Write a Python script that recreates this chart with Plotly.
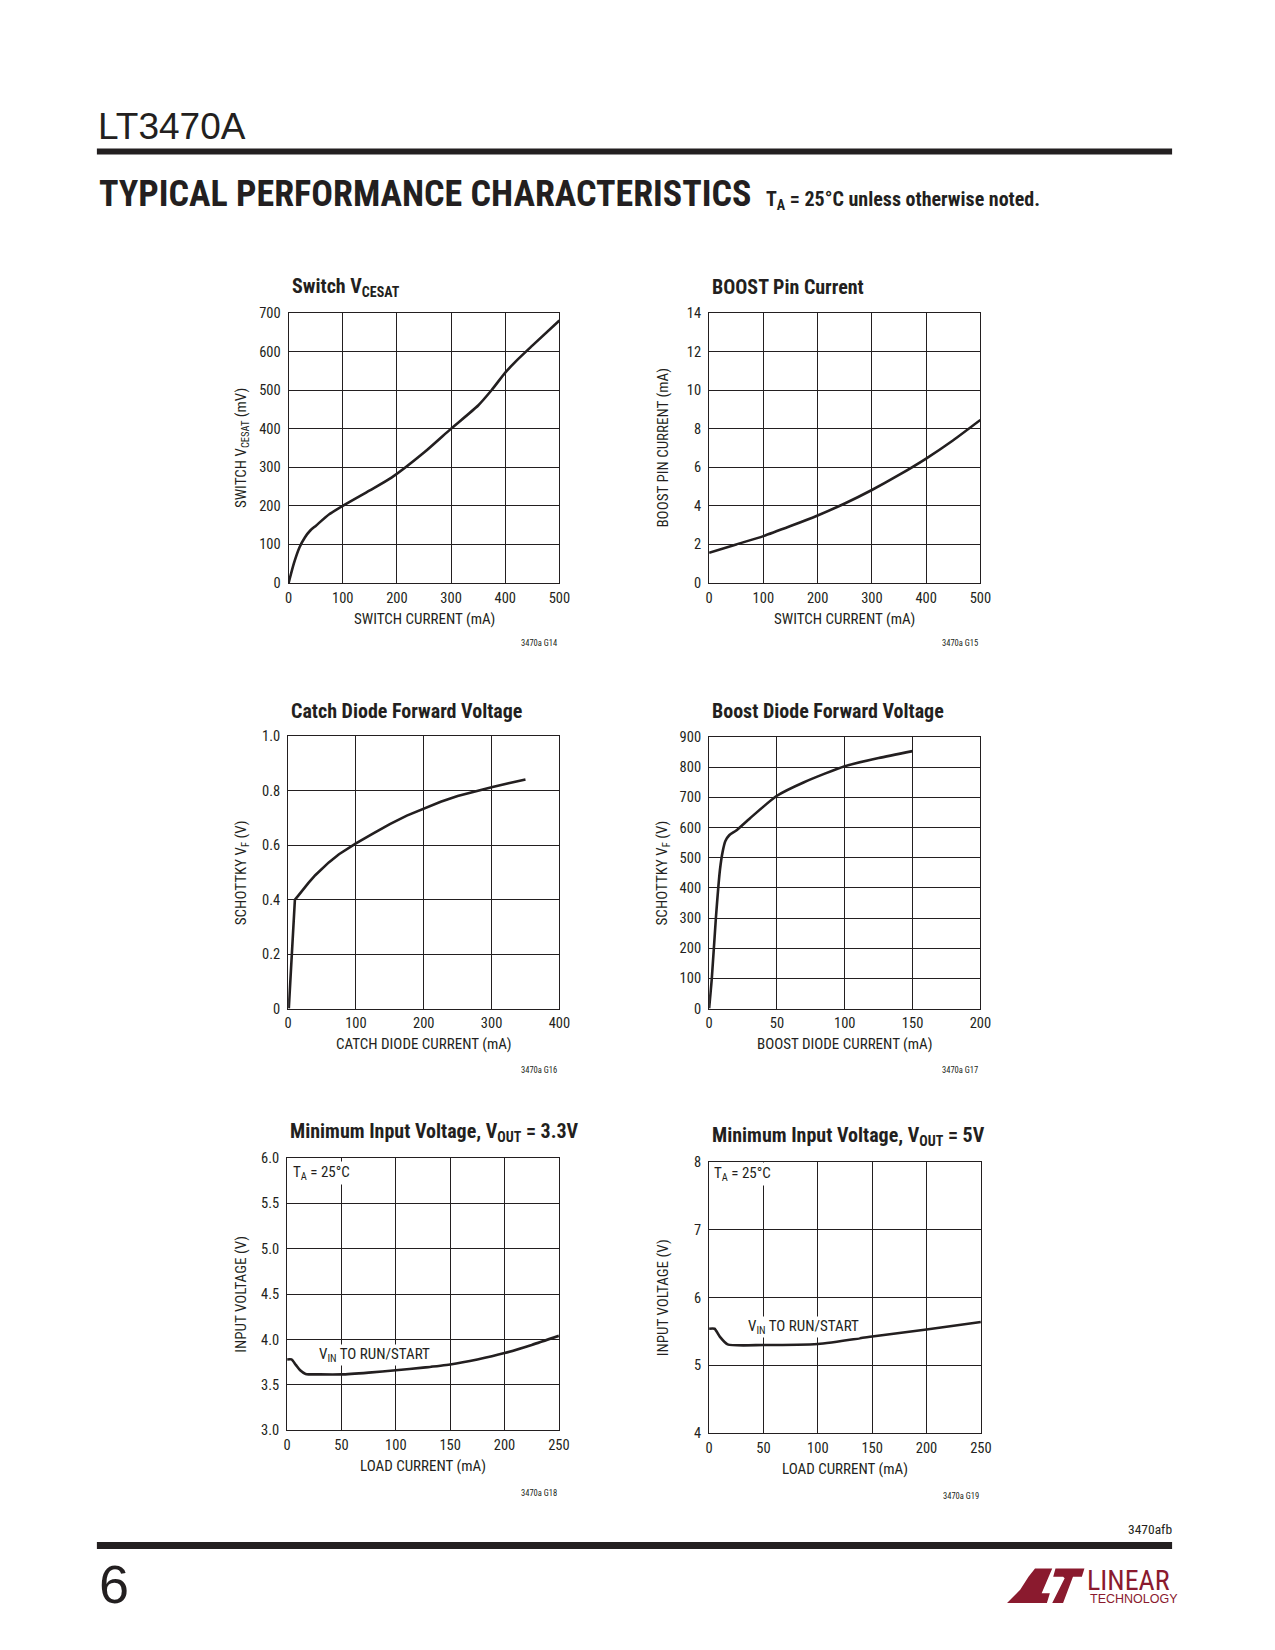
import plotly.graph_objects as go

# ---------------- data ----------------
vcesat_x = [0, 10, 20, 30, 40, 50, 75, 100, 150, 190, 250, 300, 350, 375, 400, 420, 450, 500]
vcesat_y = [0, 52, 92, 118, 136, 148, 178, 200, 240, 273, 338, 400, 460, 500, 545, 575, 615, 680]

boost_x = [0, 50, 100, 150, 200, 250, 300, 350, 400, 450, 500]
boost_y = [1.57, 2.0, 2.43, 2.95, 3.5, 4.12, 4.82, 5.6, 6.45, 7.4, 8.45]

catch_x = [1, 10, 15, 20, 30, 40, 50, 60, 75, 100, 125, 150, 175, 200, 225, 250, 275, 300, 325, 350]
catch_y = [0, 0.40, 0.415, 0.432, 0.462, 0.49, 0.515, 0.537, 0.567, 0.607, 0.643, 0.678, 0.709,
           0.736, 0.760, 0.781, 0.798, 0.813, 0.828, 0.842]

bdiode_x = [0, 2, 5, 8, 10, 12, 15, 20, 30, 50, 70, 100, 125, 150]
bdiode_y = [0, 100, 300, 460, 520, 555, 575, 590, 630, 705, 750, 803, 830, 853]

vin33_x = [0, 4, 8, 12, 17, 30, 50, 75, 100, 125, 150, 175, 200, 225, 250]
vin33_y = [3.78, 3.78, 3.72, 3.66, 3.62, 3.615, 3.615, 3.635, 3.66, 3.69, 3.725, 3.78, 3.85, 3.94, 4.04]

vin5_x = [0, 5, 10, 17, 50, 100, 150, 200, 250]
vin5_y = [5.54, 5.54, 5.42, 5.31, 5.30, 5.315, 5.425, 5.53, 5.64]

x_ticks_500 = [0, 100, 200, 300, 400, 500]
x_ticks_400 = [0, 100, 200, 300, 400]
x_ticks_200 = [0, 50, 100, 150, 200]
x_ticks_250 = [0, 50, 100, 150, 200, 250]
y_ticks_vcesat = [0, 100, 200, 300, 400, 500, 600, 700]
y_ticks_boost = [0, 2, 4, 6, 8, 10, 12, 14]
y_ticks_catch = [0, 0.2, 0.4, 0.6, 0.8, 1.0]
y_text_catch = ["0", "0.2", "0.4", "0.6", "0.8", "1.0"]
y_ticks_bdiode = [0, 100, 200, 300, 400, 500, 600, 700, 800, 900]
y_ticks_vin33 = [3.0, 3.5, 4.0, 4.5, 5.0, 5.5, 6.0]
y_text_vin33 = ["3.0", "3.5", "4.0", "4.5", "5.0", "5.5", "6.0"]
y_ticks_vin5 = [4, 5, 6, 7, 8]

titles = ["Switch V<sub>CESAT</sub>", "BOOST Pin Current", "Catch Diode Forward Voltage",
          "Boost Diode Forward Voltage", "Minimum Input Voltage, V<sub>OUT</sub> = 3.3V",
          "Minimum Input Voltage, V<sub>OUT</sub> = 5V"]
xtitles = ["SWITCH CURRENT (mA)", "SWITCH CURRENT (mA)", "CATCH DIODE CURRENT (mA)",
           "BOOST DIODE CURRENT (mA)", "LOAD CURRENT (mA)", "LOAD CURRENT (mA)"]
ytitles = ["SWITCH V<sub>CESAT</sub> (mV)", "BOOST PIN CURRENT (mA)", "SCHOTTKY V<sub>F</sub> (V)",
           "SCHOTTKY V<sub>F</sub> (V)", "INPUT VOLTAGE (V)", "INPUT VOLTAGE (V)"]
codes = ["3470a G14", "3470a G15", "3470a G16", "3470a G17", "3470a G18", "3470a G19"]

# ---------------- layout helpers ----------------
W, H = 1275, 1650
INK = "#231f20"
RED = "#8a1a2e"
NARROW = "Liberation Sans Narrow, Arial Narrow, Roboto Condensed, sans-serif"
SANS = "Liberation Sans, Arial, sans-serif"


def fx(p):
    return p / W


def fy(p):
    return 1 - p / H


boxes = [
    (288, 562, 308, 581),
    (713.5, 988, 308, 581),
    (287.5, 562, 736, 1011),
    (713.5, 988, 736.5, 1011),
    (286.5, 561.5, 1162, 1437),
    (713.5, 988.5, 1166, 1440),
]

series = [
    (vcesat_x, vcesat_y, "spline"),
    (boost_x, boost_y, "spline"),
    (catch_x, catch_y, "linear"),
    (bdiode_x, bdiode_y, "spline"),
    (vin33_x, vin33_y, "spline"),
    (vin5_x, vin5_y, "spline"),
]

xranges = [(0, 500), (0, 500), (0, 400), (0, 200), (0, 250), (0, 250)]
yranges = [(0, 700), (0, 14), (0, 1.0), (0, 900), (3.0, 6.0), (4, 8)]
xtickv = [x_ticks_500, x_ticks_500, x_ticks_400, x_ticks_200, x_ticks_250, x_ticks_250]
ytickv = [y_ticks_vcesat, y_ticks_boost, y_ticks_catch, y_ticks_bdiode, y_ticks_vin33, y_ticks_vin5]
ytickt = [[str(v) for v in y_ticks_vcesat], [str(v) for v in y_ticks_boost], y_text_catch,
          [str(v) for v in y_ticks_bdiode], y_text_vin33, [str(v) for v in y_ticks_vin5]]

fig = go.Figure()
layout = dict(width=W, height=H, margin=dict(l=0, r=0, t=0, b=0),
              paper_bgcolor="white", plot_bgcolor="white", showlegend=False)
annotations = []
shapes = []

for i in range(6):
    n = "" if i == 0 else str(i + 1)
    x0, x1, y0, y1 = boxes[i]
    xs, ys, shp = series[i]
    fig.add_trace(go.Scatter(x=xs, y=ys, mode="lines", xaxis="x" + n, yaxis="y" + n,
                             line=dict(color=INK, width=2.6, shape=shp, smoothing=0.6),
                             hoverinfo="skip"))
    common = dict(showline=True, linecolor=INK, linewidth=1.2, mirror=True,
                  showgrid=True, gridcolor=INK, gridwidth=1.1, zeroline=False,
                  ticks="", tickfont=dict(family=NARROW, size=14.5, color=INK),
                  fixedrange=True)
    layout["xaxis" + n] = dict(domain=[fx(x0), fx(x1)], anchor="y" + n, range=list(xranges[i]),
                               tickvals=xtickv[i], ticktext=[str(v) for v in xtickv[i]],
                               ticklabelstandoff=1, **common)
    layout["yaxis" + n] = dict(domain=[fy(y1), fy(y0)], anchor="x" + n, range=list(yranges[i]),
                               tickvals=ytickv[i], ticktext=ytickt[i],
                               ticklabelstandoff=4, **common)
    # chart title
    annotations.append(dict(text="<b>" + titles[i] + "</b>", x=fx(x0 + 1), y=fy(y0 - 26),
                            xref="paper", yref="paper", xanchor="left", yanchor="middle",
                            showarrow=False, font=dict(family=NARROW, size=20, color=INK)))
    # x title
    annotations.append(dict(text=xtitles[i], x=fx((x0 + x1) / 2), y=fy(y1 + 36),
                            xref="paper", yref="paper", xanchor="center", yanchor="middle",
                            showarrow=False, font=dict(family=NARROW, size=15, color=INK)))
    # y title
    annotations.append(dict(text=ytitles[i], x=fx(x0 - 47), y=fy((y0 + y1) / 2),
                            xref="paper", yref="paper", xanchor="center", yanchor="middle",
                            textangle=-90, showarrow=False,
                            font=dict(family=NARROW, size=15, color=INK)))

# code labels
code_y = [642, 642, 1073, 1073, 1500, 1503]
for i in range(6):
    x0, x1, y0, y1 = boxes[i]
    annotations.append(dict(text=codes[i], x=fx(x1), y=fy(code_y[i]), xref="paper", yref="paper",
                            xanchor="right", yanchor="middle", showarrow=False,
                            font=dict(family=NARROW, size=8.5, color=INK)))

# in-plot labels
annotations += [
    dict(text="T<sub>A</sub> = 25°C", x=4.0, y=5.84, xref="x5", yref="y5", xanchor="left",
         yanchor="middle", showarrow=False, bgcolor="white", borderpad=1,
         font=dict(family=NARROW, size=15, color=INK)),
    dict(text="V<sub>IN</sub> TO RUN/START", x=28.0, y=3.83, xref="x5", yref="y5", xanchor="left",
         yanchor="middle", showarrow=False, bgcolor="white", borderpad=0,
         font=dict(family=NARROW, size=15, color=INK)),
    dict(text="T<sub>A</sub> = 25°C", x=2.5, y=7.82, xref="x6", yref="y6", xanchor="left",
         yanchor="middle", showarrow=False, bgcolor="white", borderpad=1,
         font=dict(family=NARROW, size=15, color=INK)),
    dict(text="V<sub>IN</sub> TO RUN/START", x=35, y=5.57, xref="x6", yref="y6", xanchor="left",
         yanchor="middle", showarrow=False, bgcolor="white", borderpad=0,
         font=dict(family=NARROW, size=15, color=INK)),
]

# page header / footer
annotations += [
    dict(text="LT3470A", x=fx(93), y=fy(120), xref="paper", yref="paper", xanchor="left",
         yanchor="middle", showarrow=False, font=dict(family=SANS, size=37, color=INK)),
    dict(text="<b>TYPICAL PERFORMANCE CHARACTERISTICS</b>", x=fx(94), y=fy(188), xref="paper",
         yref="paper", xanchor="left", yanchor="middle", showarrow=False,
         font=dict(family=NARROW, size=36, color=INK)),
    dict(text="<b>T<sub>A</sub> = 25°C unless otherwise noted.</b>", x=fx(769), y=fy(194),
         xref="paper", yref="paper", xanchor="left", yanchor="middle", showarrow=False,
         font=dict(family=NARROW, size=20, color=INK)),
    dict(text="3470afb", x=fx(1184), y=fy(1537), xref="paper", yref="paper", xanchor="right",
         yanchor="middle", showarrow=False, font=dict(family=NARROW, size=13.5, color=INK)),
    dict(text="6", x=fx(94), y=fy(1592), xref="paper", yref="paper", xanchor="left",
         yanchor="middle", showarrow=False, font=dict(family=SANS, size=54, color=INK)),
    dict(text="LINEAR", x=fx(1094), y=fy(1589), xref="paper", yref="paper", xanchor="left",
         yanchor="middle", showarrow=False, font=dict(family=NARROW, size=28, color=RED)),
    dict(text="TECHNOLOGY", x=fx(1097), y=fy(1607.5), xref="paper", yref="paper", xanchor="left",
         yanchor="middle", showarrow=False, font=dict(family=SANS, size=12.5, color=RED)),
]


def rect(x0, y0, x1, y1, color):
    return dict(type="rect", xref="paper", yref="paper", x0=fx(x0), x1=fx(x1), y0=fy(y1), y1=fy(y0),
                fillcolor=color, line=dict(width=0), layer="above")


def path(pts, color):
    d = "M " + " L ".join(f"{fx(a):.5f},{fy(b):.5f}" for a, b in pts) + " Z"
    return dict(type="path", xref="paper", yref="paper", path=d, fillcolor=color,
                line=dict(width=0), layer="above")


shapes += [
    rect(94, 142, 1182, 148, INK),
    rect(94, 1550, 1182, 1557, INK),
    path([(1043.3, 1576.7), (1060.7, 1576.7), (1050, 1601.7), (1058.3, 1601.7), (1055.3, 1611.7),
          (1015, 1611.7), (1028.3, 1598.3), (1036.7, 1585)], RED),
    path([(1064, 1576.7), (1093.3, 1576.7), (1090.7, 1585), (1081.7, 1585), (1071.7, 1611.7),
          (1060.7, 1611.7), (1073.3, 1586.7), (1071.7, 1585), (1061.7, 1585)], RED),
]

layout["annotations"] = annotations
layout["shapes"] = shapes
fig.update_layout(**layout)
fig.write_html("out.html", config={"displayModeBar": False},
               post_script="document.body.style.margin='0';document.body.style.overflow='hidden';")
